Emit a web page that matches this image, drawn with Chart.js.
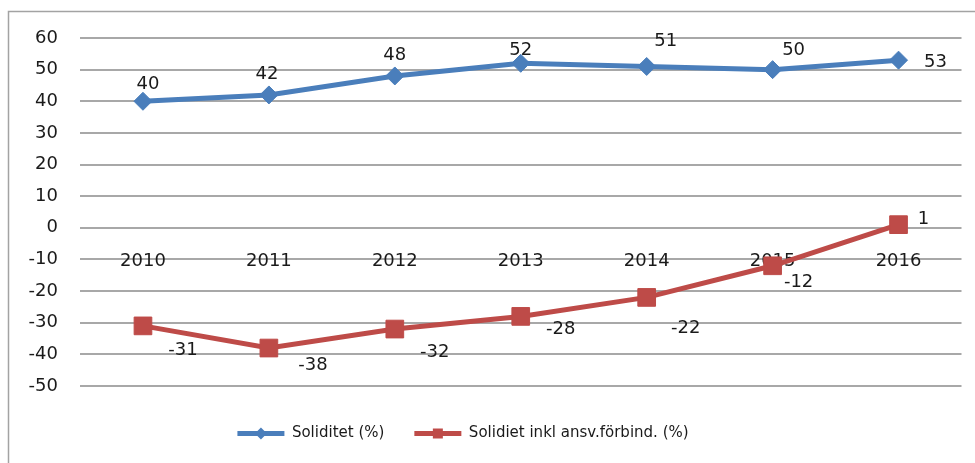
<!DOCTYPE html>
<html>
<head>
<meta charset="utf-8">
<script src="https://cdn.jsdelivr.net/npm/chart.js@4.4.1/dist/chart.umd.min.js"></script>
<style>
  html, body { margin: 0; padding: 0; background: #fff; }
  #wrap { width: 975px; height: 463px; position: relative; }
</style>
</head>
<body>
<div id="wrap"><canvas id="chart"></canvas></div>
<script>
const years = ["2010", "2011", "2012", "2013", "2014", "2015", "2016"];
const soliditet = [40, 42, 48, 52, 51, 50, 53];
const soliditetInkl = [-31, -38, -32, -28, -22, -12, 1];
const yTicks = [60, 50, 40, 30, 20, 10, 0, -10, -20, -30, -40, -50];

const BLUE = "#4a7ebb";
const RED = "#be4b48";
const FONT = "'DejaVu Sans', Verdana, sans-serif";

// where each value label sits relative to its point (dx, dy of text centre)
const labelOffsets = [
  [[5, -17], [-2, -21], [0, -21], [0, -13], [19, -25], [21, -19], [37, 2]],
  [[40, 24], [44, 17], [40, 23], [40, 13], [39, 31], [26, 17], [25, -5]],
];

// light grey frame round the whole chart
const framePlugin = {
  id: "frame",
  beforeDraw(chart) {
    const ctx = chart.ctx;
    ctx.save();
    ctx.strokeStyle = "#a3a3a3";
    ctx.lineWidth = 1.5;
    ctx.strokeRect(8.5, 11.5, 1100, 600);
    ctx.restore();
  },
};

const valueLabels = {
  id: "valueLabels",
  afterDatasetsDraw(chart) {
    const ctx = chart.ctx;
    ctx.save();
    ctx.font = "18px " + FONT;
    ctx.fillStyle = "#1a1a1a";
    ctx.textAlign = "center";
    ctx.textBaseline = "middle";
    chart.data.datasets.forEach((ds, di) => {
      chart.getDatasetMeta(di).data.forEach((pt, i) => {
        const off = labelOffsets[di][i];
        ctx.fillText(String(ds.data[i]), pt.x + off[0], pt.y + off[1]);
      });
    });
    ctx.restore();
  },
};

// move legend left a little and put the markers on the legend lines
const legendTweak = {
  id: "legendTweak",
  afterLayout(chart) {
    const lg = chart.legend;
    const shift = 463 - (lg.left + lg.right) / 2;
    lg.left += shift;
    lg.right += shift;
  },
  afterDraw(chart) {
    const lg = chart.legend;
    const ctx = chart.ctx;
    const bw = lg.options.labels.boxWidth;
    lg.legendHitBoxes.forEach((hb, i) => {
      const ds = chart.data.datasets[i];
      const cx = hb.left + bw / 2;
      const cy = hb.top + 7.5;
      ctx.save();
      ctx.fillStyle = ds.borderColor;
      ctx.beginPath();
      if (ds.pointStyle === "rectRot") {
        ctx.moveTo(cx - 6, cy);
        ctx.lineTo(cx, cy - 6);
        ctx.lineTo(cx + 6, cy);
        ctx.lineTo(cx, cy + 6);
      } else {
        ctx.rect(cx - 5, cy - 5, 10, 10);
      }
      ctx.closePath();
      ctx.fill();
      ctx.restore();
    });
  },
};

new Chart(document.getElementById("chart"), {
  type: "line",
  data: {
    labels: years,
    datasets: [
      {
        label: "Soliditet (%)",
        data: soliditet,
        borderColor: BLUE,
        backgroundColor: BLUE,
        borderWidth: 5,
        pointStyle: "rectRot",
        pointRadius: 9,
        pointBorderWidth: 1,
        tension: 0,
      },
      {
        label: "Solidiet inkl ansv.förbind. (%)",
        data: soliditetInkl,
        borderColor: RED,
        backgroundColor: RED,
        borderWidth: 5,
        pointStyle: "rect",
        pointRadius: 12.5,
        pointBorderWidth: 1,
        tension: 0,
      },
    ],
  },
  options: {
    responsive: true,
    maintainAspectRatio: false,
    animation: false,
    layout: { padding: { top: 38, right: 12, bottom: 12, left: 0 } },
    plugins: {
      tooltip: { enabled: false },
      legend: {
        position: "bottom",
        title: { display: true, text: " ", font: { size: 1, lineHeight: 1 }, padding: { top: 9, bottom: 0 } },
        labels: {
          boxWidth: 47,
          boxHeight: 5,
          padding: 30,
          color: "#1a1a1a",
          font: { family: FONT, size: 15 },
          generateLabels(chart) {
            return Chart.defaults.plugins.legend.labels.generateLabels(chart).map((item) => {
              item.lineWidth = 0;
              item.fillStyle = chart.data.datasets[item.datasetIndex].borderColor;
              return item;
            });
          },
        },
      },
    },
    scales: {
      x: {
        position: { y: 0 },
        offset: true,
        grid: { display: false, drawTicks: false, offset: true },
        border: { display: false },
        ticks: {
          padding: 23,
          color: "#1a1a1a",
          maxRotation: 0,
          font: { family: FONT, size: 18 },
        },
      },
      y: {
        min: -50,
        max: 60,
        afterBuildTicks(scale) {
          scale.ticks = yTicks.map((v) => ({ value: v }));
        },
        afterFit(scale) {
          scale.width = 80;
        },
        grid: { color: "#a8a8a8", lineWidth: 2, drawTicks: false },
        border: { display: false },
        ticks: {
          padding: 22,
          color: "#1a1a1a",
          font: { family: FONT, size: 18 },
        },
      },
    },
  },
  plugins: [framePlugin, valueLabels, legendTweak],
});
</script>
</body>
</html>
